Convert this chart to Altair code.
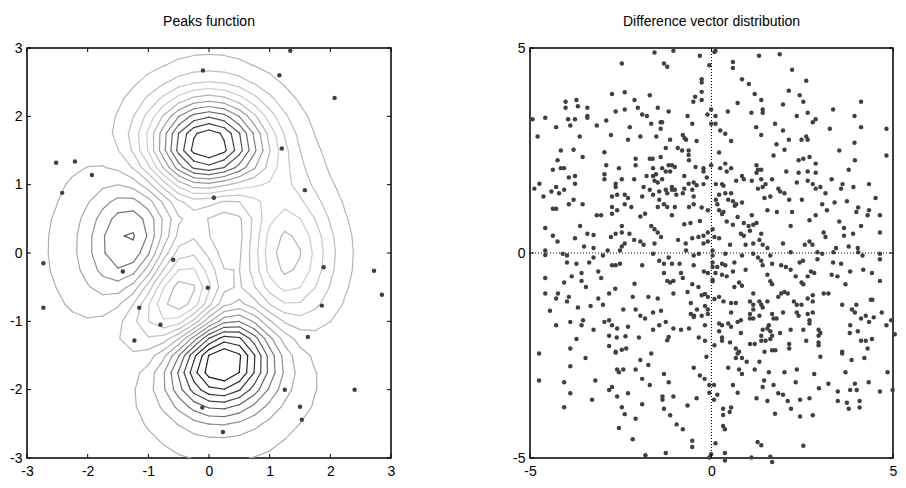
import altair as alt
import numpy as np
import pandas as pd

# ---------------- Left panel: MATLAB peaks function sampled on a 25x25 grid ----------------
grid_x = np.linspace(-3, 3, 25)
grid_y = np.linspace(-3, 3, 25)
GX, GY = np.meshgrid(grid_x, grid_y)
peaks_z = (3 * (1 - GX) ** 2 * np.exp(-GX ** 2 - (GY + 1) ** 2)
           - 10 * (GX / 5 - GX ** 3 - GY ** 5) * np.exp(-GX ** 2 - GY ** 2)
           - np.exp(-(GX + 1) ** 2 - GY ** 2) / 3)
n_levels = 20

# population points drawn on the peaks contour
pop_x = [-0.10, -2.52, -2.21, -1.93, -2.42, 1.34, 1.16, 2.07, 1.20, 1.58, 0.08,
         -2.73, -2.73, -1.42, -0.59, -0.02, -1.15, -0.80, -1.23, -0.11,
         1.89, 2.72, 2.85, 1.86, 1.63, 1.25, 2.40, 1.50, 1.53, 0.23]
pop_y = [2.67, 1.32, 1.34, 1.14, 0.88, 2.96, 2.60, 2.27, 1.53, 0.92, 0.81,
         -0.15, -0.80, -0.27, -0.10, -0.51, -0.80, -1.05, -1.28, -2.26,
         -0.21, -0.26, -0.61, -0.77, -1.23, -2.00, -2.00, -2.25, -2.44, -2.62]

# ---------------- Right panel: difference vectors ----------------
diff_pairs = [
    (-1.57,4.89),(-1.05,4.93),(-2.47,4.62),(-1.31,4.62),(-1.22,4.54),(-2.74,3.88),(-2.39,3.92),(-1.70,3.85),
    (-0.45,3.81),(-0.50,3.69),(-4.02,3.69),(-3.72,3.73),(-2.12,3.73),(-4.02,3.54),(-3.68,3.58),(-3.42,3.54),
    (-2.03,3.54),(-1.48,3.54),(-2.64,3.45),(-2.39,3.50),(-1.91,3.38),(-1.78,3.34),(-1.18,3.45),(-3.42,3.34),
    (-3.42,3.30),(-3.95,3.26),(-3.76,3.26),(-0.66,3.34),(-4.93,3.26),(-4.58,3.30),(-2.90,3.23),(-1.66,3.15),
    (-1.40,3.19),(-1.36,3.19),(-0.53,3.15),(-3.89,3.11),(-4.28,3.07),(-3.16,3.11),(-2.25,3.07),(-1.40,3.03),
    (-4.79,2.84),(-3.63,2.84),(-2.77,2.88),(-1.96,2.84),(-1.52,2.84),(-0.79,2.88),(-0.74,2.80),(-0.70,2.76),
    (-2.30,2.76),(-1.14,2.76),(-0.41,2.73),
    (-0.32,4.81),(0.08,4.90),(0.11,4.93),(1.31,4.81),(1.88,4.85),(-0.06,4.58),(0.59,4.66),(0.59,4.51),
    (2.22,4.47),(-0.27,4.24),(-0.27,4.16),(0.84,4.24),(1.03,4.12),(2.61,4.20),(-0.27,3.93),(-0.27,3.73),
    (2.13,3.96),(1.19,3.88),(2.43,3.85),(1.37,3.73),(2.53,3.69),(4.12,3.69),(0.72,3.66),(1.97,3.62),
    (3.35,3.50),(-0.01,3.50),(-0.11,3.38),(0.11,3.34),(0.45,3.45),(1.10,3.42),(1.41,3.50),(1.41,3.42),
    (2.35,3.34),(2.65,3.42),(3.94,3.34),(2.87,3.26),(2.79,3.19),(-0.01,3.15),(0.11,3.15),(1.75,3.15),
    (1.23,3.07),(1.97,2.99),(3.26,3.03),(4.12,3.07),(4.82,3.03),(0.24,2.99),(0.38,2.91),(1.37,2.88),
    (0.54,2.73),(1.79,2.65),(2.13,2.76),(2.48,2.76),(2.61,2.84),(2.65,2.76),(3.94,2.69),
    (-4.15,2.50),(-3.80,2.52),(-2.95,2.46),(-1.26,2.56),(-0.93,2.56),(-0.81,2.50),(-0.63,2.50),(-0.63,2.39),
    (-3.55,2.34),(-4.24,2.26),(-2.09,2.30),(-1.70,2.30),(-1.62,2.30),(-1.40,2.34),(-0.62,2.26),(-4.37,2.03),
    (-4.15,2.07),(-4.06,2.07),(-2.90,2.14),(-2.55,2.07),(-2.09,2.14),(-2.95,1.92),(-2.95,1.80),(-1.61,2.07),
    (-1.36,2.07),(-1.18,2.14),(-1.09,2.14),(-1.01,2.10),(-0.44,2.10),(-1.79,1.88),(-1.61,1.88),(-1.53,1.92),
    (-1.26,1.99),(-1.14,1.99),(-3.93,1.84),(-3.76,1.88),(-2.47,1.80),(-2.13,1.80),(-0.75,1.88),(-3.76,1.69),
    (-2.64,1.69),(-2.64,1.61),(-1.57,1.76),(-1.48,1.72),(-1.36,1.80),(-1.09,1.61),(-0.75,1.57),(-0.63,1.69),
    (-0.49,1.72),(-0.41,1.65),(-4.88,1.57),(-4.74,1.69),(-4.28,1.61),(-4.41,1.50),(-4.20,1.46),(-4.06,1.54),
    (-4.63,1.38),(-1.87,1.61),(-1.70,1.54),(-1.61,1.42),(-1.44,1.50),(-1.26,1.54),(-1.09,1.54),(-1.01,1.54),
    (-1.22,1.46),(-2.74,1.38),(-2.60,1.42),(-2.39,1.42),(-2.30,1.34),(-1.91,1.38),(-0.97,1.42),(-0.79,1.46),
    (-0.53,1.54),(-0.49,1.38),(-3.55,1.19),(-3.93,1.19),(-3.80,1.30),(-4.37,1.08),(-4.28,1.08),(-2.74,1.12),
    (-2.74,0.96),(-2.60,1.04),(-2.39,1.19),(-2.21,1.12),(-1.44,1.30),(-1.48,1.12),(-1.31,1.19),(-1.22,1.12),
    (-1.01,1.12),(-0.62,1.12),(-0.49,1.19),(-1.09,0.92),(-3.16,0.92),(-3.04,0.92),(-1.96,0.89),(-1.83,0.96),
    (-4.58,0.61),(-3.62,0.66),(-2.47,0.66),(-1.66,0.66),(-1.57,0.58),(-0.75,0.70),(-0.58,0.73),(-0.32,0.78),
    (-4.37,0.42),(-4.24,0.28),(-3.76,0.36),(-3.42,0.47),(-3.25,0.44),(-2.77,0.39),(-2.64,0.47),(-2.47,0.50),
    (-2.26,0.47),(-2.13,0.32),(-1.96,0.28),(-1.87,0.20),(-1.48,0.50),(-1.39,0.39),(-1.57,0.23),(-0.92,0.32),
    (-0.71,0.23),(-0.53,0.36),(-0.36,0.39),(-3.51,0.16),(-3.25,0.12),(-2.47,0.16),(-2.39,0.23),
    (0.21,2.45),(2.01,2.52),(3.52,2.50),(1.71,2.38),(2.40,2.26),(2.53,2.30),(2.70,2.34),(2.87,2.18),
    (3.95,2.26),(4.82,2.38),(-0.22,2.07),(-0.22,1.99),(-0.01,2.14),(0.24,2.07),(0.38,2.18),(0.42,1.99),
    (0.54,2.07),(1.24,2.14),(1.28,2.03),(1.37,2.03),(1.24,1.96),(2.06,1.99),(2.40,1.96),(2.65,1.99),
    (2.87,1.96),(3.78,2.03),(-0.13,1.84),(0.68,1.76),(0.84,1.88),(0.89,1.80),(1.11,1.76),(1.37,1.80),
    (1.67,1.80),(-0.22,1.68),(0.12,1.68),(0.29,1.68),(0.33,1.64),(1.49,1.68),(2.35,1.72),(2.65,1.76),
    (2.79,1.68),(2.87,1.57),(3.00,1.61),(3.31,1.80),(3.61,1.68),(3.57,1.57),(3.91,1.61),(4.34,1.68),
    (1.28,1.57),(1.41,1.61),(1.84,1.57),(1.89,1.50),(0.21,1.42),(0.12,1.30),(0.38,1.46),(0.54,1.46),
    (0.46,1.30),(1.62,1.38),(1.46,1.34),(2.01,1.46),(2.14,1.30),(3.14,1.46),(4.52,1.34),(-0.27,1.11),
    (-0.10,1.04),(0.16,1.19),(0.21,1.04),(0.29,0.95),(0.33,1.00),(0.59,1.26),(0.64,1.15),(0.68,1.19),
    (0.84,1.23),(2.49,1.30),(3.05,1.19),(3.18,1.04),(3.39,1.23),(3.73,1.26),(4.04,1.11),(3.99,1.00),
    (4.34,1.04),(4.30,0.92),(4.64,0.92),(1.54,1.04),(1.80,1.00),(2.22,1.00),(0.72,0.88),(1.11,0.92),
    (0.89,0.73),(0.42,0.77),(0.59,0.69),(2.87,0.92),(2.70,0.80),(2.18,0.66),(3.52,0.77),(3.65,0.61),
    (4.12,0.66),(1.02,0.66),(1.15,0.69),(1.24,0.73),(-0.22,0.42),(-0.10,0.50),(0.03,0.58),(0.08,0.39),
    (0.21,0.36),(0.81,0.47),(0.89,0.42),(1.06,0.54),(1.37,0.47),(3.09,0.50),(3.14,0.39),(3.65,0.42),
    (3.90,0.47),(4.64,0.50),(-0.22,0.23),(-0.10,0.28),(0.51,0.20),(0.94,0.20),(1.15,0.23),(1.32,0.32),
    (1.41,0.20),(1.54,0.12),(1.97,0.23),(2.57,0.20),(2.70,0.28),(2.78,0.20),(3.43,0.12),(3.78,0.16),
    (4.03,0.12),
    (-4.58,0.06),(-4.58,-0.05),(-4.10,-0.02),(-3.98,-0.06),(-3.98,-0.23),(-3.72,-0.26),(-3.37,-0.23),(-3.25,-0.11),
    (-2.99,-0.06),(-2.86,0.06),(-2.52,0.06),(-2.74,-0.30),(-2.64,-0.30),(-2.52,-0.26),(-1.91,-0.30),(-1.61,-0.02),
    (-1.44,-0.19),(-1.31,-0.26),(-1.18,-0.11),(-1.09,-0.26),(-0.88,-0.26),(-0.70,0.06),(-0.49,-0.30),(-0.49,-0.06),
    (-0.35,-0.02),(-4.58,-0.61),(-4.06,-0.72),(-3.85,-0.57),(-3.58,-0.49),(-3.58,-0.68),(-3.12,-0.45),(-3.04,-0.61),
    (-2.12,-0.75),(-3.46,-0.83),(-2.65,-0.87),(-1.31,-0.49),(-1.22,-0.68),(-1.14,-0.72),(-1.05,-0.68),(-0.84,-0.49),
    (-0.79,-0.61),(-0.53,-0.76),(-0.36,-0.83),(-4.58,-0.99),(-4.23,-0.99),(-4.28,-1.11),(-3.93,-1.07),(-3.98,-1.18),
    (-3.12,-1.11),(-2.82,-0.99),(-2.17,-1.07),(-1.74,-1.07),(-1.48,-1.11),(-1.05,-0.99),(-0.66,-0.95),(-0.57,-1.22),
    (-4.45,-1.41),(-3.68,-1.33),(-3.33,-1.29),(-2.99,-1.26),(-2.43,-1.38),(-2.09,-1.38),(-1.96,-1.53),(-1.83,-1.60),
    (-1.61,-1.45),(-1.39,-1.41),(-0.57,-1.49),(-0.48,-1.53),(-0.40,-1.38),(-4.28,-1.76),(-3.89,-1.68),(-3.58,-1.76),
    (-3.54,-1.64),(-3.25,-1.87),(-2.95,-1.68),(-2.82,-1.64),(-2.74,-1.76),(-2.60,-1.84),(-2.30,-1.80),(-1.61,-1.87),
    (-1.44,-1.76),(-1.26,-1.68),(-1.05,-1.84),(-0.84,-1.87),(-0.62,-1.84),(-0.49,-1.56),(-3.72,-2.10),(-2.82,-2.02),
    (-2.61,-2.06),(-2.37,-2.03),(-2.00,-2.06),(-1.18,-2.05),(-1.22,-2.13),(-0.35,-2.06),(-2.82,-2.27),(-2.64,-2.41),
    (-2.47,-2.36),(-2.35,-2.33),(-3.89,-2.33),
    (0.03,0.06),(0.03,-0.06),(0.03,-0.23),(0.03,-0.34),(0.03,-0.65),(0.03,-0.69),(0.38,-0.02),(0.84,-0.06),
    (1.15,-0.02),(1.28,-0.11),(1.62,-0.06),(2.18,0.02),(2.92,0.02),(3.05,-0.02),(3.36,0.02),(4.04,0.02),
    (4.16,-0.06),(4.64,-0.02),(4.64,-0.15),(1.37,-0.19),(1.41,-0.30),(1.67,-0.26),(0.63,-0.23),(0.38,-0.30),
    (0.29,-0.26),(0.16,-0.34),(1.92,-0.30),(2.05,-0.34),(2.18,-0.41),(2.43,-0.23),(2.52,-0.19),(2.92,-0.15),
    (3.35,-0.23),(3.57,-0.26),(4.18,-0.41),(4.42,-0.49),(3.82,-0.45),(-0.21,-0.45),(-0.10,-0.49),(0.11,-0.49),
    (0.29,-0.53),(0.42,-0.57),(0.59,-0.45),(0.94,-0.41),(1.54,-0.53),(2.32,-0.57),(2.65,-0.57),(2.74,-0.45),
    (2.83,-0.49),(3.31,-0.53),(3.47,-0.57),(1.62,-0.69),(1.67,-0.76),(2.48,-0.72),(2.53,-0.76),(3.69,-0.76),
    (4.64,-0.68),(0.63,-0.83),(0.76,-0.72),(0.84,-0.80),(-0.27,-1.03),(-0.18,-1.00),(-0.10,-1.07),(0.08,-1.12),
    (0.21,-1.07),(1.15,-0.99),(1.84,-1.07),(1.92,-0.99),(2.01,-0.95),(2.10,-0.99),(2.65,-1.11),(2.79,-1.03),
    (2.79,-1.18),(3.09,-0.99),(3.22,-0.99),(0.33,-1.18),(0.54,-1.22),(0.67,-1.22),(1.06,-1.18),(1.15,-1.26),
    (1.32,-1.18),(1.37,-1.26),(1.54,-1.18),(2.27,-1.18),(2.35,-1.26),(2.48,-1.26),(3.60,-1.26),(3.99,-1.26),
    (4.39,-1.14),(4.43,-1.14),(-0.18,-1.29),(-0.10,-1.38),(-0.10,-1.49),(0.54,-1.45),(1.15,-1.38),(1.41,-1.33),
    (1.97,-1.45),(2.35,-1.45),(2.40,-1.53),(2.65,-1.49),(2.79,-1.45),(3.87,-1.38),(3.95,-1.45),(4.69,-1.45),
    (-0.27,-1.53),(-0.18,-1.76),(0.21,-1.72),(0.29,-1.76),(0.46,-1.72),(0.54,-1.80),(0.72,-1.68),(0.81,-1.64),
    (1.06,-1.49),(1.06,-1.60),(1.15,-1.60),(1.32,-1.53),(1.67,-1.49),(1.71,-1.60),(1.79,-1.60),(2.70,-1.64),
    (2.70,-1.72),(4.12,-1.60),(4.25,-1.53),(4.34,-1.68),(4.47,-1.57),(4.82,-1.76),(4.95,-1.64),(3.82,-1.76),
    (4.03,-1.91),(1.41,-1.87),(1.54,-1.84),(1.58,-1.76),(1.62,-1.91),(1.67,-2.02),(1.89,-1.95),(2.18,-1.87),
    (2.53,-1.87),(2.95,-1.87),(3.00,-1.95),(2.95,-2.02),(3.81,-1.95),(-0.18,-2.14),(0.21,-1.91),(0.29,-2.06),
    (0.29,-2.14),(0.51,-2.18),(0.81,-1.95),(1.06,-2.22),(1.19,-2.22),(1.37,-2.02),(1.37,-2.14),(1.49,-2.14),
    (1.62,-2.10),(2.61,-2.14),(2.95,-2.18),(2.95,-2.25),(4.12,-2.14),(4.25,-2.14),(4.42,-2.10),(0.08,-2.25),
    (0.67,-2.33),(0.76,-2.41),(1.46,-2.41),(1.67,-2.37),(1.76,-2.37),(2.14,-2.22),(2.14,-2.33),(4.30,-2.33),
    (3.60,-2.41),(5.05,-1.98),
    (-4.75,-2.45),(-3.47,-2.56),(-2.64,-2.43),(-1.66,-2.45),(-1.96,-2.61),(-1.74,-2.73),(-3.89,-2.76),(-2.60,-2.84),
    (-2.55,-2.91),(-2.43,-2.84),(-2.09,-2.84),(-0.49,-2.80),(-4.75,-3.11),(-4.06,-3.15),(-3.20,-3.11),(-1.91,-3.07),
    (-1.31,-2.95),(-1.18,-3.15),(-1.70,-3.22),(-2.82,-3.34),(-2.74,-3.27),(-3.89,-3.42),(-3.29,-3.58),(-2.60,-3.50),
    (-2.30,-3.42),(-1.35,-3.50),(-1.35,-3.58),(-1.05,-3.50),(-0.41,-3.54),(-4.06,-3.76),(-2.47,-3.76),(-2.39,-3.93),
    (-1.91,-3.69),(-1.31,-3.80),(-1.14,-3.96),(-0.66,-3.72),(-2.09,-4.04),(-0.96,-4.18),(-0.79,-4.30),(-2.55,-4.27),
    (-2.17,-4.54),(-0.53,-4.58),(-0.53,-4.73),(-1.82,-4.93),(-1.26,-4.88),
    (-0.14,-2.53),(0.67,-2.56),(0.72,-2.45),(0.84,-2.56),(0.97,-2.65),(1.32,-2.65),(3.00,-2.53),(3.60,-2.45),
    (3.86,-2.61),(4.21,-2.56),(-0.32,-2.99),(-0.19,-3.07),(0.46,-2.80),(0.76,-2.84),(0.84,-2.95),(1.19,-2.84),
    (1.58,-2.91),(2.01,-2.91),(2.35,-2.84),(2.83,-2.95),(3.69,-2.91),(4.85,-2.91),(-0.06,-3.22),(0.07,-3.22),
    (-0.06,-3.41),(0.16,-3.46),(0.07,-3.58),(0.59,-3.22),(0.72,-3.41),(1.45,-3.11),(1.41,-3.27),(1.71,-3.22),
    (1.24,-3.54),(1.54,-3.61),(1.84,-3.42),(1.97,-3.46),(2.10,-3.61),(2.32,-3.15),(2.44,-3.58),(2.70,-3.54),
    (2.96,-3.30),(3.22,-3.19),(3.48,-3.38),(3.48,-3.61),(3.82,-3.34),(3.95,-3.19),(4.00,-3.34),(3.73,-3.65),
    (3.78,-3.80),(4.08,-3.61),(4.08,-3.77),(4.33,-3.15),(4.64,-3.38),(4.99,-3.34),(0.32,-3.80),(0.54,-3.77),
    (0.50,-3.88),(0.32,-3.95),(1.75,-3.92),(2.19,-3.80),(2.44,-3.99),(2.79,-3.96),(0.32,-4.22),(0.37,-4.30),
    (0.11,-4.64),(1.27,-4.61),(1.37,-4.69),(2.53,-4.70),(-0.01,-4.91),(-0.06,-4.99),(0.37,-4.88),(0.37,-5.06),
    (1.10,-4.99),(1.62,-4.97),(1.67,-5.10),
]
diff_x = [p[0] for p in diff_pairs]
diff_y = [p[1] for p in diff_pairs]

left_ticks = [-3, -2, -1, 0, 1, 2, 3]
right_ticks = [-5, 0, 5]

# grey rendering of the jet colormap (position in level range -> grey)
jet_stops = [0.0, 0.125, 0.375, 0.625, 0.875, 1.0]
jet_grey = ["#141414", "#282828", "#a8a8a8", "#cdcdcd", "#474747", "#282828"]

# ---------------- contour extraction (marching squares) ----------------
zmin, zmax = float(peaks_z.min()), float(peaks_z.max())
levels = [zmin + (zmax - zmin) * k / (n_levels + 1) for k in range(1, n_levels + 1)]


def march(level):
    segs = []
    ny, nx = peaks_z.shape
    for j in range(ny - 1):
        for i in range(nx - 1):
            xa, xb = grid_x[i], grid_x[i + 1]
            ya, yb = grid_y[j], grid_y[j + 1]
            c = [(xa, ya, peaks_z[j, i]), (xb, ya, peaks_z[j, i + 1]),
                 (xb, yb, peaks_z[j + 1, i + 1]), (xa, yb, peaks_z[j + 1, i])]
            pts = {}
            for k in range(4):
                x1, y1, z1 = c[k]
                x2, y2, z2 = c[(k + 1) % 4]
                if (z1 > level) != (z2 > level):
                    t = (level - z1) / (z2 - z1)
                    pts[k] = (x1 + t * (x2 - x1), y1 + t * (y2 - y1))
            if len(pts) == 2:
                a, b = list(pts.values())
                segs.append((a, b))
            elif len(pts) == 4:
                centre = sum(p[2] for p in c) / 4
                if (centre > level) == (c[0][2] > level):
                    pairs = [(0, 1), (2, 3)]
                else:
                    pairs = [(3, 0), (1, 2)]
                for p, q in pairs:
                    segs.append((pts[p], pts[q]))
    return segs


rows = []
for lv in levels:
    for (p1, p2) in march(lv):
        rows.append({"x": p1[0], "y": p1[1], "x2": p2[0], "y2": p2[1], "level": lv})
contour_df = pd.DataFrame(rows)
pop_df = pd.DataFrame({"x": pop_x, "y": pop_y})
diff_df = pd.DataFrame({"x": diff_x, "y": diff_y})
zero_df = pd.DataFrame({"v": [0]})
tick_l_df = pd.DataFrame({"t": left_ticks})
tick_r_df = pd.DataFrame({"t": right_ticks})

WL, WR, H = 364, 363, 410
TL = 4  # inward tick length
FONT = "Liberation Sans"


def lab_axis(vals, pad):
    return alt.Axis(values=vals, ticks=False, tickSize=0, domain=False, grid=False,
                    labelPadding=pad, labelFlush=False, labelColor="black", labelFont=FONT,
                    labelFontSize=14, title=None, labelExpr="'' + datum.value")


def tick_layers(df, xs, ys, ax_x, ax_y, w):
    base = alt.Chart(df).mark_rule(color="black", strokeWidth=1)
    return [
        base.encode(x=alt.X("t:Q", scale=xs, axis=ax_x), y=alt.value(H), y2=alt.value(H - TL)),
        base.encode(x=alt.X("t:Q", scale=xs, axis=ax_x), y=alt.value(0), y2=alt.value(TL)),
        base.encode(y=alt.Y("t:Q", scale=ys, axis=ax_y), x=alt.value(0), x2=alt.value(TL)),
        base.encode(y=alt.Y("t:Q", scale=ys, axis=ax_y), x=alt.value(w), x2=alt.value(w - TL)),
    ]


xs_l = alt.Scale(domain=[-3, 3], nice=False, zero=False)
ys_l = alt.Scale(domain=[-3, 3], nice=False, zero=False)
xs_r = alt.Scale(domain=[-5, 5], nice=False, zero=False)
ys_r = alt.Scale(domain=[-5, 5], nice=False, zero=False)
axx_l = lab_axis(left_ticks, 6)
axy_l = lab_axis(left_ticks, 5)
axx_r = lab_axis(right_ticks, 6)
axy_r = lab_axis(right_ticks, 5)

grey_scale = alt.Scale(domain=[zmin + s * (zmax - zmin) for s in jet_stops], range=jet_grey)

contours = alt.Chart(contour_df).mark_rule(strokeWidth=1.2, strokeCap="round").encode(
    x=alt.X("x:Q", scale=xs_l, axis=axx_l),
    y=alt.Y("y:Q", scale=ys_l, axis=axy_l),
    x2="x2:Q", y2="y2:Q",
    color=alt.Color("level:Q", scale=grey_scale, legend=None),
)
pop = alt.Chart(pop_df).mark_circle(size=20, color="#404040", opacity=1).encode(
    x=alt.X("x:Q", scale=xs_l, axis=axx_l),
    y=alt.Y("y:Q", scale=ys_l, axis=axy_l),
)
left = alt.layer(contours, pop, *tick_layers(tick_l_df, xs_l, ys_l, axx_l, axy_l, WL)).properties(
    width=WL, height=H,
    title=alt.TitleParams("Peaks function", font=FONT, fontSize=14, fontWeight="normal",
                          color="black", offset=12),
)

vline = alt.Chart(zero_df).mark_rule(color="black", strokeDash=[1, 2], strokeWidth=1).encode(
    x=alt.X("v:Q", scale=xs_r, axis=axx_r))
hline = alt.Chart(zero_df).mark_rule(color="black", strokeDash=[1, 2], strokeWidth=1).encode(
    y=alt.Y("v:Q", scale=ys_r, axis=axy_r))
dots = alt.Chart(diff_df).mark_circle(size=20, color="#404040", opacity=1).encode(
    x=alt.X("x:Q", scale=xs_r, axis=axx_r),
    y=alt.Y("y:Q", scale=ys_r, axis=axy_r),
)
right = alt.layer(vline, hline, dots, *tick_layers(tick_r_df, xs_r, ys_r, axx_r, axy_r, WR)).properties(
    width=WR, height=H,
    title=alt.TitleParams("Difference vector distribution", font=FONT, fontSize=14,
                          fontWeight="normal", color="black", offset=12),
)

chart = alt.hconcat(left, right, spacing=115).configure_view(
    stroke="black", strokeWidth=1.5
).properties(
    padding={"left": 0, "top": 6, "right": 0, "bottom": 0}, background="white"
)

chart.save("out.html", embed_options={"renderer": "svg", "actions": False})
